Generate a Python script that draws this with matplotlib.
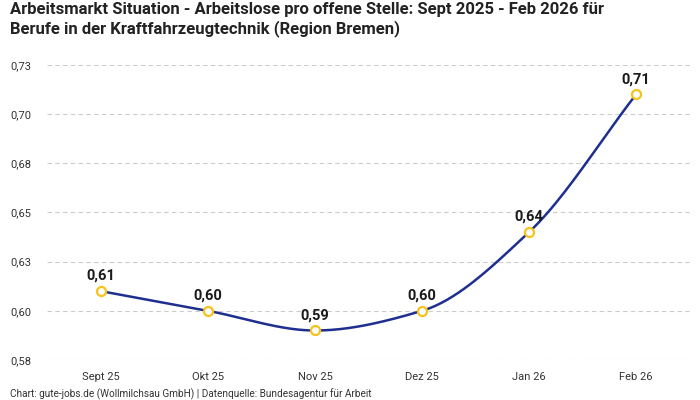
import matplotlib
matplotlib.use("Agg")
import matplotlib.pyplot as plt
import numpy as np

monate = ["Sept 25", "Okt 25", "Nov 25", "Dez 25", "Jan 26", "Feb 26"]
werte = [0.61, 0.60, 0.59, 0.60, 0.64, 0.71]
y_ticks = [0.575, 0.600, 0.625, 0.650, 0.675, 0.700, 0.725]
y_tick_labels = ["0,58", "0,60", "0,63", "0,65", "0,68", "0,70", "0,73"]

plt.rcParams['font.family'] = ['Roboto', 'DejaVu Sans']


def monoton(x, y, n=40):
    # monotone kubische Interpolation (Fritsch-Carlson) fuer die glatte Linie
    x = np.asarray(x, float)
    y = np.asarray(y, float)
    h = np.diff(x)
    d = np.diff(y) / h
    m = np.zeros_like(y)
    m[0] = d[0]
    m[-1] = d[-1]
    for i in range(1, len(y) - 1):
        if d[i - 1] * d[i] <= 0:
            m[i] = 0
        else:
            m[i] = 3 * (h[i - 1] + h[i]) / ((2 * h[i] + h[i - 1]) / d[i - 1] + (h[i] + 2 * h[i - 1]) / d[i])
    xs, ys = [], []
    for i in range(len(x) - 1):
        t = np.linspace(0, 1, n)
        h00 = 2 * t**3 - 3 * t**2 + 1
        h10 = t**3 - 2 * t**2 + t
        h01 = -2 * t**3 + 3 * t**2
        h11 = t**3 - t**2
        xs.extend(x[i] + t * h[i])
        ys.extend(h00 * y[i] + h10 * h[i] * m[i] + h01 * y[i + 1] + h11 * h[i] * m[i + 1])
    return np.array(xs), np.array(ys)


fig = plt.figure(figsize=(7, 4), dpi=100)
ax = fig.add_axes([47.5 / 700, 0.1, 642 / 700, 0.7375])

pos = np.arange(len(monate))
xs, ys = monoton(pos, werte)
ax.plot(xs, ys, color="#1f2f8f", linewidth=1.8, zorder=3)
ax.plot(pos, werte, "o", markersize=6.5, markerfacecolor="white",
        markeredgecolor="#f7c21b", markeredgewidth=1.6, zorder=4)

for p, w in zip(pos, werte):
    ax.annotate(f"{w:.2f}".replace(".", ","), (p, w), xytext=(0, 6),
                textcoords="offset points", ha="center", va="bottom",
                fontsize=10.5, fontweight="bold", color="#1a1a1a")

ax.set_xlim(-0.5, len(monate) - 0.5)
ax.set_ylim(0.575, 0.725)
ax.set_xticks(pos)
ax.set_xticklabels(monate, fontsize=8, color="#333333")
ax.set_yticks(y_ticks)
ax.set_yticklabels(y_tick_labels, fontsize=8, color="#333333")
ax.tick_params(length=0)
ax.tick_params(axis="x", pad=9)
ax.tick_params(axis="y", pad=27)
for lab in ax.get_yticklabels():
    lab.set_horizontalalignment("left")
ax.grid(axis="y", color="#cccccc", linestyle=(0, (4, 3)), linewidth=0.8)
for s in ax.spines.values():
    s.set_visible(False)

fig.text(10 / 700, 1 - 2 / 400,
         "Arbeitsmarkt Situation - Arbeitslose pro offene Stelle: Sept 2025 - Feb 2026 für\nBerufe in der Kraftfahrzeugtechnik (Region Bremen)",
         fontsize=12, fontweight="bold", color="#222222", va="top", ha="left", linespacing=1.25)
fig.text(10 / 700, 1 - 394 / 400,
         "Chart: gute-jobs.de (Wollmilchsau GmbH) | Datenquelle: Bundesagentur für Arbeit",
         fontsize=7.2, color="#333333", va="center", ha="left")

fig.savefig("out.png", dpi=100)
